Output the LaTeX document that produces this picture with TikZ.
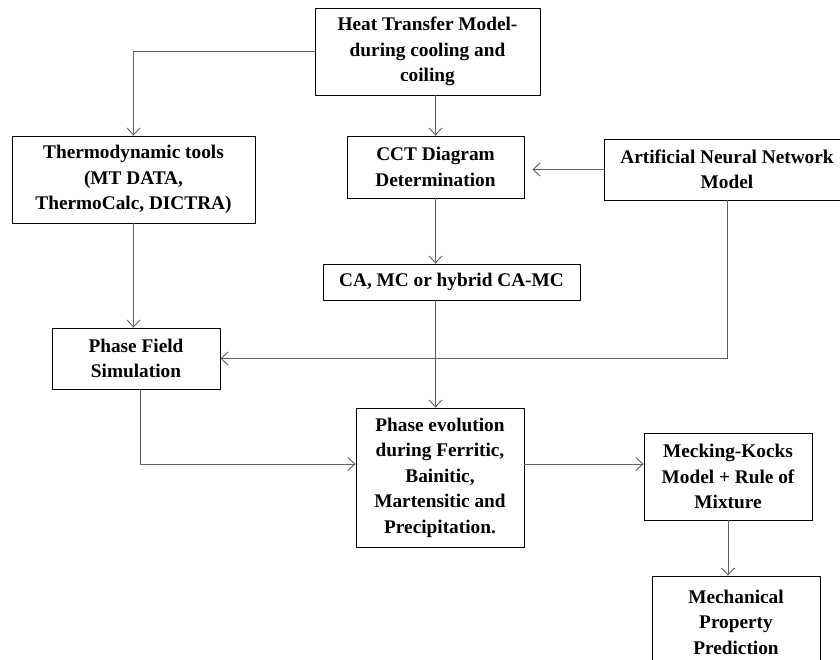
\documentclass[tikz,border=0pt]{standalone}
\usepackage{fontspec}
\setmainfont{Liberation Serif}
\usetikzlibrary{arrows.meta}
\begin{document}
\begin{tikzpicture}[x=1pt,y=-1pt,
  box/.style={draw=black, line width=0.9pt, fill=white, align=center, inner sep=0pt,
    font=\bfseries\fontsize{19.3}{25.5}\selectfont},
  arr/.style={draw=black!62, line width=0.9pt, -{Straight Barb[length=7pt,width=13pt]}}]
\clip (0,0) rectangle (840,660);
\fill[white] (0,0) rectangle (840,660);
% boxes
\node[box, minimum width=225pt, minimum height=87pt] (heat) at (427.5,51.5)
  {Heat Transfer Model-\\during cooling and\\coiling};
\node[box, minimum width=243pt, minimum height=87pt] (thermo) at (133.5,179.5)
  {Thermodynamic tools\\(MT DATA,\\ThermoCalc, DICTRA)};
\node[box, minimum width=177pt, minimum height=62pt] (cct) at (435.5,167)
  {CCT Diagram\\Determination};
\node[box, minimum width=246pt, minimum height=61pt] (ann) at (727,169.5)
  {Artificial Neural Network\\Model};
\node[box, minimum width=257pt, minimum height=36pt] (ca) at (451.5,282)
  {CA, MC or hybrid CA-MC};
\node[box, minimum width=168pt, minimum height=61pt] (pf) at (136,358.5)
  {Phase Field\\Simulation};
\node[box, minimum width=168pt, minimum height=139pt] (pe) at (440,477.5)
  {Phase evolution\\during Ferritic,\\Bainitic,\\Martensitic and\\Precipitation.};
\node[box, minimum width=168pt, minimum height=87pt] (mk) at (728,476.5)
  {Mecking-Kocks\\Model + Rule of\\Mixture};
\node[box, minimum width=168pt, minimum height=92pt] (mp) at (736,622)
  {Mechanical\\Property\\Prediction};
% connectors
\draw[arr] (heat.west) -| (thermo.north);
\draw[arr] (heat.south -| cct.north) -- (cct.north);
\draw[arr, shorten >=8pt] (ann.west) -- (ann.west -| cct.east);
\draw[arr] (cct.south) -- (cct.south |- ca.north);
\draw[arr] (thermo.south) -- (thermo.south |- pf.north);
\draw[arr] (ann.south) |- (pf.east);
\draw[arr] (cct.south |- ca.south) -- (cct.south |- pe.north);
\draw[arr] ([xshift=4pt]pf.south) |- ([yshift=13.5pt]pe.west);
\draw[arr] ([yshift=13.5pt]pe.east) -- ([yshift=13.5pt]pe.east -| mk.west);
\draw[arr] (mk.south) -- (mk.south |- mp.north);
\end{tikzpicture}
\end{document}
